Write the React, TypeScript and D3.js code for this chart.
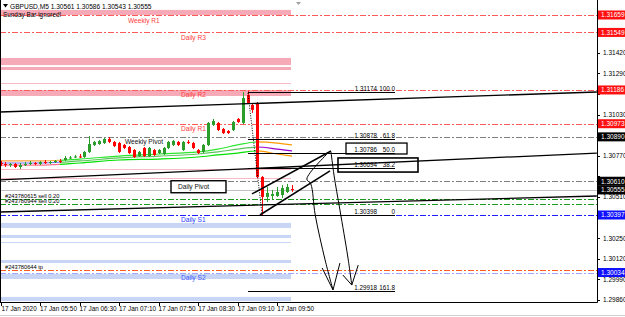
import React from 'react';
import * as d3 from 'd3';

// ---------- DATA ----------
const opens = [1.30725,1.30719,1.30712,1.30719,1.30700,1.30712,1.30719,1.30725,1.30719,1.30731,1.30725,1.30731,1.30738,1.30744,1.30757,1.30760,1.30766,1.30763,1.30795,1.30839,1.30845,1.30851,1.30877,1.30858,1.30851,1.30839,1.30826,1.30807,1.30769,1.30820,1.30769,1.30807,1.30788,1.30782,1.30820,1.30839,1.30858,1.30807,1.30858,1.30851,1.30807,1.30795,1.30839,1.30965,1.30978,1.30940,1.30927,1.30933,1.31003,1.30978,1.31154,1.31091,1.31104,1.30637,1.30511,1.30517,1.30517,1.30523,1.30542,1.30561];
const highs = [1.30738,1.30731,1.30725,1.30725,1.30725,1.30731,1.30738,1.30731,1.30738,1.30744,1.30738,1.30744,1.30750,1.30769,1.30769,1.30776,1.30782,1.30801,1.30895,1.30864,1.30870,1.30883,1.30889,1.30864,1.30858,1.30845,1.30832,1.30813,1.30801,1.30826,1.30826,1.30813,1.30813,1.30826,1.30864,1.30870,1.30864,1.30864,1.30870,1.30858,1.30813,1.30845,1.30984,1.31003,1.30984,1.30946,1.30933,1.30990,1.31009,1.31173,1.31179,1.31104,1.31110,1.30643,1.30574,1.30555,1.30574,1.30586,1.30593,1.30586];
const lows = [1.30706,1.30700,1.30700,1.30694,1.30687,1.30706,1.30712,1.30712,1.30712,1.30719,1.30719,1.30725,1.30725,1.30738,1.30750,1.30757,1.30757,1.30757,1.30788,1.30832,1.30839,1.30845,1.30851,1.30826,1.30788,1.30813,1.30782,1.30757,1.30763,1.30763,1.30763,1.30769,1.30782,1.30776,1.30813,1.30832,1.30832,1.30801,1.30845,1.30813,1.30782,1.30788,1.30832,1.30959,1.30927,1.30908,1.30908,1.30927,1.30978,1.30971,1.31098,1.31041,1.30630,1.30397,1.30479,1.30498,1.30511,1.30504,1.30536,1.30543];
const closes = [1.30719,1.30712,1.30719,1.30700,1.30712,1.30719,1.30725,1.30719,1.30731,1.30725,1.30731,1.30738,1.30731,1.30757,1.30760,1.30766,1.30763,1.30795,1.30845,1.30858,1.30864,1.30877,1.30858,1.30832,1.30795,1.30820,1.30788,1.30763,1.30795,1.30769,1.30820,1.30776,1.30807,1.30820,1.30858,1.30864,1.30839,1.30858,1.30851,1.30820,1.30788,1.30839,1.30978,1.30990,1.30933,1.30914,1.30914,1.30984,1.30984,1.31135,1.31104,1.31060,1.30637,1.30511,1.30536,1.30529,1.30542,1.30567,1.30574,1.30555];

const timeLabels = ['17 Jan 2020','17 Jan 05:50','17 Jan 06:30','17 Jan 07:10','17 Jan 07:50','17 Jan 08:30','17 Jan 09:10','17 Jan 09:50'];
const timeLabelBars = [0,8,16,24,32,40,48,56];

const priceTicks = [1.29860,1.29990,1.30120,1.30250,1.30380,1.30510,1.30640,1.30770,1.30900,1.31030,1.31160,1.31290,1.31420,1.31550,1.31680];

const pivotNames = ['Weekly R1','Daily R3','Daily R2','Daily R1','Weekly Pivot','Daily Pivot','Daily S1','Daily S2'];
const pivotPrices = [1.31659,1.31549,1.31186,1.30973,1.30890,1.30610,1.30397,1.30034];

const orderNames = ['#243780615 sell 0.20','#243780944 sell 0.20','#243780644 tp'];
const orderPrices = [1.30498,1.30466,1.30048];

const fibLevels = ['100.0','61.8','50.0','38.2','0','161.8'];
const fibPrices = [1.31174,1.30878,1.30786,1.30694,1.30398,1.29918];
const fibBars = [50.1, 79.85];

const bidPrice = 1.30555;
const titleText = 'GBPUSD,M5  1.30561 1.30586 1.30543 1.30555';

const pinkZones = [[1.31691,1.31659],[1.31388,1.31343],[1.31331,1.31312],[1.31186,1.31148]];
const pinkThin = [1.31230,1.30687,1.30630];
const blueZones = [[1.30347,1.30315],[1.30271,1.30252],[1.30113,1.30094],[1.30025,1.29993],[1.29880,1.29854]];
const blueThin = [1.30227];

// moving averages: [bar, price]
const ma1 = [[0,1.30738],[8,1.30738],[16,1.30750],[24,1.30769],[32,1.30782],[40,1.30795],[44,1.30813],[48,1.30839],[52,1.30858],[56,1.30851],[59,1.30839]];
const ma2 = [[0,1.30725],[8,1.30725],[16,1.30738],[24,1.30757],[32,1.30769],[40,1.30782],[44,1.30795],[48,1.30813],[52,1.30826],[56,1.30813],[59,1.30801]];
const ma3 = [[0,1.30712],[8,1.30712],[16,1.30725],[24,1.30744],[32,1.30750],[40,1.30763],[44,1.30776],[48,1.30788],[52,1.30801],[56,1.30782],[59,1.30769]];

// trend lines [bar, price]
const trendLines = [
  [[-0.1,1.31047],[120.7,1.31173]],
  [[-0.1,1.30618],[120.7,1.30788]],
  [[-0.1,1.30416],[120.7,1.30517]],
  [[50.9,1.30530],[66.9,1.30801]],
  [[52.5,1.30397],[66.7,1.30675]],
];
const dottedLine = [[50.1,1.31167],[52.9,1.30410]];
const arrowA = [[66.7,1.30801],[62.0,1.30624],[62.8,1.30593],[63.7,1.30397],[65.7,1.30113],[67.3,1.29924]];
const arrowAHead = [[65.1,1.30063],[67.3,1.29924],[68.7,1.30094]];
const arrowB = [[66.9,1.30795],[67.5,1.30649],[68.7,1.30429],[70.3,1.30132],[71.1,1.29955]];
const arrowBHead = [[69.3,1.30018],[71.1,1.29955],[72.4,1.30081]];
const boxes = [[69.93,1.30851,82.28,1.30782],[68.31,1.30757,84.5,1.30668]];

export default function App() {
  const R = 597, B = 302;
  const x = d3.scaleLinear().domain([0, 59]).range([0.5, 292]);
  const y = d3.scaleLinear().domain([1.29860, 1.31659]).range([300.1, 15]);
  const ry = (p: number) => Math.round(y(p)) + 0.5;
  const zoneRight = x(59) - 1;
  const font = "'Liberation Sans', Arial, sans-serif";
  const DD = '6,2,2,2';
  const line = d3.line<number[]>().x(d => x(d[0])).y(d => y(d[1]));
  const maLine = d3.line<number[]>().x(d => x(d[0])).y(d => y(d[1])).curve(d3.curveMonotoneX);
  const handLine = d3.line<number[]>().x(d => x(d[0])).y(d => y(d[1])).curve(d3.curveCatmullRom);

  const pivotColors = ['#ff5a5a','#ff5a5a','#ff5a5a','#ff5a5a','#808080','#808080','#2020ff','#9ea6ff'];
  const pivotText = ['#ff3b3b','#ff3b3b','#ff3b3b','#ff3b3b','#111','#111','#2a3cff','#3a55ff'];
  const pivotLX = [128,181,181,181,125,178,181,181];
  const orderColors = ['#1a9a1a','#1a9a1a','#ff5a20'];
  const axisBoxes = [
    [1.31659,'#ff1010'],[1.31549,'#ff1010'],[1.31186,'#ff1010'],[1.30973,'#ff1010'],
    [1.30890,'#000'],[1.30610,'#000'],[1.30555,'#000'],[1.30397,'#1010ff'],[1.30034,'#1010ff'],
  ] as [number,string][];
  // tick labels fully covered by a highlighted price box are not drawn (as in the terminal)
  const visibleTicks = priceTicks.filter(p => axisBoxes.every(([b]) => Math.abs(y(b) - y(p)) >= 5));

  const maColors = [
    ['#ffa040','#2ee62e','#ff9900'],
    ['#7070ff','#5cc45c','#9900cc'],
    ['#ff7090','#00e000','#ff9900'],
  ];
  const mas = [ma1, ma2, ma3];

  return (
    <svg width={625} height={317} style={{position:'absolute',left:0,top:0,background:'#fff'}} fontFamily={font}>
      <defs>
        <clipPath id="cL"><rect x={0} y={0} width={x(12)} height={B}/></clipPath>
        <clipPath id="cM"><rect x={x(12)} y={0} width={x(52)-x(12)} height={B}/></clipPath>
        <clipPath id="cR"><rect x={x(52)} y={0} width={R-x(52)} height={B}/></clipPath>
        <clipPath id="plot"><rect x={0} y={0} width={R} height={B}/></clipPath>
      </defs>
      <rect x={0} y={0} width={625} height={317} fill="#fff"/>

      {/* zones */}
      {pinkZones.map((z,i)=>(
        <rect key={'pz'+i} x={0} y={y(z[0])} width={zoneRight} height={y(z[1])-y(z[0])} fill="#f6aab8"/>
      ))}
      {pinkThin.map((p,i)=>(
        <line key={'pt'+i} x1={0} x2={zoneRight} y1={ry(p)} y2={ry(p)} stroke="#f8b8c4" strokeWidth={1}/>
      ))}
      {blueZones.map((z,i)=>(
        <rect key={'bz'+i} x={0} y={y(z[0])} width={zoneRight} height={y(z[1])-y(z[0])} fill="#c8d5f4"/>
      ))}
      {blueThin.map((p,i)=>(
        <line key={'bt'+i} x1={0} x2={zoneRight} y1={ry(p)} y2={ry(p)} stroke="#c8d5f4" strokeWidth={1}/>
      ))}

      {/* bid line */}
      <line x1={0} x2={R} y1={ry(bidPrice)} y2={ry(bidPrice)} stroke="#c0c0c0" strokeWidth={1}/>

      {/* pivot lines */}
      {pivotPrices.map((p,i)=>(
        <line key={'pv'+i} x1={0} x2={R} y1={ry(p)} y2={ry(p)} stroke={pivotColors[i]} strokeWidth={1} strokeDasharray={DD}/>
      ))}
      {/* order lines */}
      {orderPrices.map((p,i)=>(
        <line key={'or'+i} x1={0} x2={R} y1={ry(p)} y2={ry(p)} stroke={orderColors[i]} strokeWidth={1} strokeDasharray={DD}/>
      ))}

      {/* moving averages */}
      {mas.map((m,k)=>(
        <g key={'ma'+k} fill="none" strokeWidth={1.2}>
          <path d={maLine(m) || ''} stroke={maColors[k][0]} clipPath="url(#cL)"/>
          <path d={maLine(m) || ''} stroke={maColors[k][1]} clipPath="url(#cM)"/>
          <path d={maLine(m) || ''} stroke={maColors[k][2]} clipPath="url(#cR)"/>
        </g>
      ))}

      {/* candles */}
      {opens.map((o,i)=>{
        const c = closes[i];
        const up = c >= o;
        const col = up ? '#2a9d2a' : '#ff0000';
        const cx = Math.round(x(i));
        const top = Math.min(y(o), y(c));
        const h = Math.max(1, Math.abs(y(o)-y(c)));
        return (
          <g key={'c'+i}>
            <line x1={cx+0.5} x2={cx+0.5} y1={y(highs[i])} y2={y(lows[i])} stroke={col} strokeWidth={1}/>
            <rect x={cx-1} y={top} width={3} height={h} fill={col}/>
          </g>
        );
      })}

      {/* trend lines */}
      <g clipPath="url(#plot)" fill="none" stroke="#000">
        {trendLines.map((t,i)=>(
          <path key={'tl'+i} d={line(t) || ''} strokeWidth={i>=3 ? 1.5 : 1.3}/>
        ))}
        <path d={line(dottedLine) || ''} strokeWidth={1} strokeDasharray="1,1.5"/>
        <path d={handLine(arrowA) || ''} strokeWidth={1}/>
        <path d={line(arrowAHead) || ''} strokeWidth={1}/>
        <path d={handLine(arrowB) || ''} strokeWidth={1}/>
        <path d={line(arrowBHead) || ''} strokeWidth={1}/>
      </g>

      {/* fibonacci */}
      {fibPrices.map((p,i)=>(
        <g key={'fb'+i}>
          <line x1={x(fibBars[0])} x2={x(fibBars[1])} y1={ry(p)} y2={ry(p)} stroke="#000" strokeWidth={1}/>
          <text x={x(fibBars[1])-18} y={ry(p)-1.5} fontSize={6.3} textAnchor="end" fill="#000">{p.toFixed(5)}</text>
          <text x={x(fibBars[1])} y={ry(p)-1.5} fontSize={6.3} textAnchor="end" fill="#000">{fibLevels[i]}</text>
        </g>
      ))}
      {boxes.map((b,i)=>(
        <rect key={'bx'+i} x={x(b[0])} y={y(b[1])} width={x(b[2])-x(b[0])} height={y(b[3])-y(b[1])} fill="none" stroke="#000" strokeWidth={i===1?1.6:1.3}/>
      ))}

      {/* pivot labels */}
      {pivotNames.map((n,i)=>(
        n === 'Daily Pivot' ? (
          <g key={'pl'+i}>
            <rect x={pivotLX[i]-7} y={y(pivotPrices[i])-0.5} width={55} height={12} fill="#fff" stroke="#000" strokeWidth={1.4}/>
            <text x={pivotLX[i]} y={y(pivotPrices[i])+7.8} fontSize={6.6} fill={pivotText[i]}>{n}</text>
          </g>
        ) : (
          <text key={'pl'+i} x={pivotLX[i]} y={y(pivotPrices[i])+7.5} fontSize={6.6} fill={pivotText[i]}>{n}</text>
        )
      ))}

      {/* order labels */}
      {orderNames.map((n,i)=>(
        <text key={'ol'+i} x={5} y={ry(orderPrices[i])-1.5} fontSize={5.7} fill="#000">{n}</text>
      ))}

      {/* frame */}
      <line x1={0.5} x2={0.5} y1={0} y2={B} stroke="#000" strokeWidth={1}/>
      <line x1={0} x2={R+0.5} y1={B+0.5} y2={B+0.5} stroke="#000" strokeWidth={1}/>
      <line x1={R+0.5} x2={R+0.5} y1={0} y2={B+0.5} stroke="#000" strokeWidth={1}/>
      <line x1={0} x2={625} y1={315.5} y2={315.5} stroke="#d0d0d0" strokeWidth={1}/>

      {/* price axis */}
      {priceTicks.map((p,i)=>(
        <line key={'ptk'+i} x1={R} x2={R+3} y1={ry(p)} y2={ry(p)} stroke="#000" strokeWidth={1}/>
      ))}
      {visibleTicks.map((p,i)=>(
        <text key={'ptl'+i} x={603} y={y(p)+2.3} fontSize={6.5} fill="#000">{p.toFixed(5)}</text>
      ))}
      {axisBoxes.map(([p,bg],i)=>(
        <g key={'ab'+i}>
          <rect x={598} y={y(p)-4.5} width={27} height={9} fill={bg}/>
          <text x={601} y={y(p)+2.3} fontSize={6.5} fill="#fff">{p.toFixed(5)}</text>
        </g>
      ))}

      {/* time axis */}
      {timeLabelBars.map((b,i)=>(
        <g key={'tx'+i}>
          <line x1={Math.round(x(b))+0.5} x2={Math.round(x(b))+0.5} y1={B} y2={B+4} stroke="#000" strokeWidth={1}/>
          <text x={x(b)+ (i===0 ? 1 : 0)} y={310.5} fontSize={6.4} fill="#000">{timeLabels[i]}</text>
        </g>
      ))}

      {/* title */}
      <path d="M3,4 L8,4 L5.5,7.5 Z" fill="#000"/>
      <text x={10} y={8.5} fontSize={6.6} fill="#000">{titleText}</text>
      <text x={3} y={16.5} fontSize={6.4} fill="#000">Sunday Bar ignored!</text>
      <path d="M296,2 L301,2 L298.5,5 Z" fill="#a0a0a0"/>
    </svg>
  );
}
